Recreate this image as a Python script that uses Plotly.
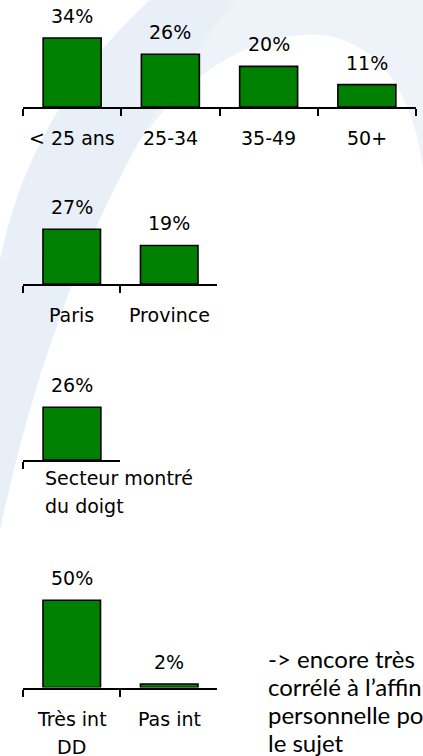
import plotly.graph_objects as go

# --- data ---
age_labels = ["< 25 ans", "25-34", "35-49", "50+"]
age_values = [34, 26, 20, 11]

region_labels = ["Paris", "Province"]
region_values = [27, 19]

sector_labels = ["Secteur montré<br>du doigt"]
sector_values = [26]

interest_labels = ["Très int<br>DD", "Pas int"]
interest_values = [50, 2]

comment_lines = [
    "-> encore très",
    "corrélé à l’affinité",
    "personnelle pour",
    "le sujet",
]

W, H = 423, 756
GREEN = "#008000"
LABEL_FONT = dict(family="DejaVu Sans", size=19, color="black")
LINE_STEP = 28


def px_x(v):
    return v / W


def px_y(v):
    return 1 - v / H


fig = go.Figure()

# (labels, values, axis suffix, x px span, axis px y, y range, px per unit, x range, left aligned labels)
panels = [
    (age_labels, age_values, "", (23, 416), 107, 40, 2.03, [-0.5, 3.5], False),
    (region_labels, region_values, "2", (23, 217), 284, 40, 2.03, [-0.5, 1.49], False),
    (sector_labels, sector_values, "3", (23, 120), 460, 40, 2.03, [-0.5, 0.49], True),
    (interest_labels, interest_values, "4", (23, 217), 687.5, 55, 1.745, [-0.5, 1.49], False),
]

for labels, values, sfx, (x0, x1), ybase, ymax, scale, xr, left in panels:
    fig.add_trace(go.Bar(
        x=labels, y=values, width=0.59,
        marker=dict(color=GREEN, line=dict(color="black", width=1.6)),
        xaxis="x" + sfx, yaxis="y" + sfx,
        showlegend=False, hoverinfo="skip", cliponaxis=False,
    ))
    fig.update_layout(**{
        "xaxis" + sfx: dict(
            domain=[px_x(x0), px_x(x1)], anchor="y" + sfx, type="category",
            range=xr, showline=True, linecolor="black", linewidth=2,
            ticks="outside", tickson="boundaries", ticklen=7, tickwidth=2,
            tickcolor="black", showgrid=False, zeroline=False,
            showticklabels=False, fixedrange=True,
        ),
        "yaxis" + sfx: dict(
            domain=[px_y(ybase), px_y(ybase - ymax * scale)],
            anchor="x" + sfx, range=[0, ymax], visible=False, fixedrange=True,
        ),
    })
    for lab, v in zip(labels, values):
        # value above the bar
        fig.add_annotation(
            x=lab, y=v, xref="x" + sfx, yref="y" + sfx, text=f"{v}%",
            showarrow=False, yanchor="middle", yshift=22, font=LABEL_FONT,
        )
        # category text under the axis, one annotation per line
        first = 18 if left else 31
        for k, part in enumerate(lab.split("<br>")):
            fig.add_annotation(
                x=lab, y=0, xref="x" + sfx, yref="y" + sfx, text=part,
                showarrow=False, yanchor="middle",
                xanchor="left" if left else "center",
                xshift=-29 if left else 0,
                yshift=-(first + k * LINE_STEP), font=LABEL_FONT,
            )

for i, line in enumerate(comment_lines):
    fig.add_annotation(
        x=px_x(266), y=px_y(658 + i * 28), xref="paper", yref="paper",
        text=line, showarrow=False, xanchor="left", yanchor="middle",
        font=dict(family="Lato", size=24, color="black"),
    )


# faint blue swoosh of the slide background
def path(template, pts):
    vals = [px_x(p) if k % 2 == 0 else px_y(p) for k, p in enumerate(pts)]
    return template.format(*vals)


band = "M {0},{1} Q {2},{3} {4},{5} L {6},{7} Q {8},{9} {10},{11} Z"
band_pts = [150, 0, 30, 110, 0, 260, 0, 530, 70, 200, 235, 0]
dome = ("M {0},{1} L {2},{3} L {4},{5} C {6},{7} {8},{9} {10},{11} "
        "C {12},{13} {14},{15} {16},{17} Z")
dome_pts = [200, 0, 423, 0, 423, 170, 410, 60, 350, 30, 300, 35,
            230, 42, 170, 90, 120, 170]

fig.add_shape(type="path", path=path(dome, dome_pts), xref="paper", yref="paper",
              fillcolor="#eef3f9", line=dict(width=0), layer="below")
fig.add_shape(type="path", path=path(band, band_pts), xref="paper", yref="paper",
              fillcolor="#e8eff7", line=dict(width=0), layer="below")

fig.update_layout(
    width=W, height=H,
    margin=dict(l=0, r=0, t=0, b=0),
    paper_bgcolor="white", plot_bgcolor="rgba(0,0,0,0)",
    showlegend=False,
)

fig.write_html(
    "out.html",
    config={"displayModeBar": False},
    post_script="document.body.style.margin='0';",
)
